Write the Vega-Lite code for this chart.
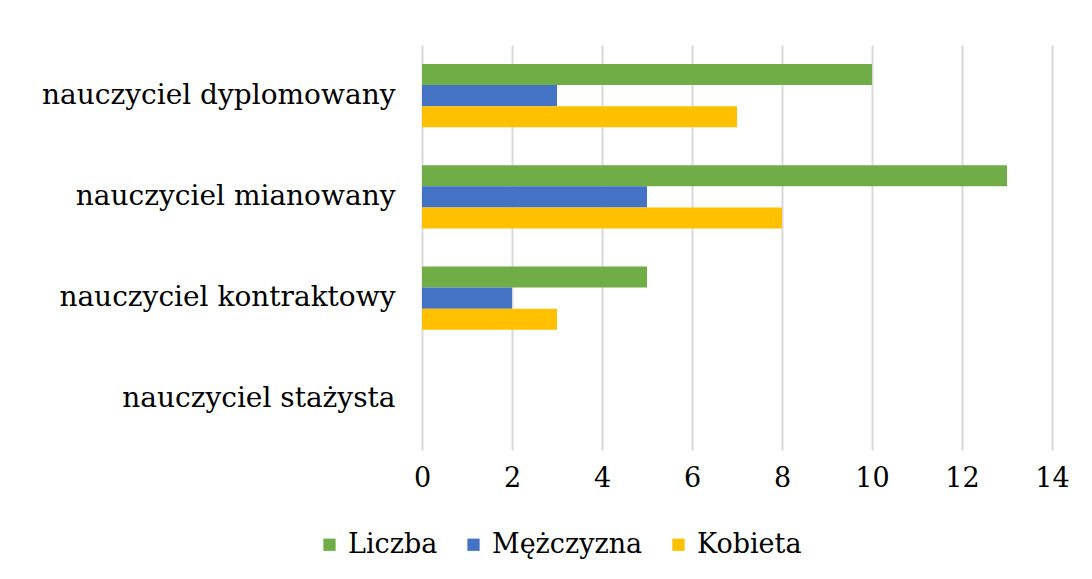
{
  "$schema": "https://vega.github.io/schema/vega-lite/v6.json",
  "width": 630,
  "height": 405,
  "autosize": {"type": "none"},
  "padding": {"left": 422, "top": 45, "right": 40, "bottom": 129},
  "background": "white",
  "data": {
    "values": [
      {"kategoria": "nauczyciel dyplomowany", "seria": "Liczba", "wartosc": 10},
      {"kategoria": "nauczyciel dyplomowany", "seria": "Mężczyzna", "wartosc": 3},
      {"kategoria": "nauczyciel dyplomowany", "seria": "Kobieta", "wartosc": 7},
      {"kategoria": "nauczyciel mianowany", "seria": "Liczba", "wartosc": 13},
      {"kategoria": "nauczyciel mianowany", "seria": "Mężczyzna", "wartosc": 5},
      {"kategoria": "nauczyciel mianowany", "seria": "Kobieta", "wartosc": 8},
      {"kategoria": "nauczyciel kontraktowy", "seria": "Liczba", "wartosc": 5},
      {"kategoria": "nauczyciel kontraktowy", "seria": "Mężczyzna", "wartosc": 2},
      {"kategoria": "nauczyciel kontraktowy", "seria": "Kobieta", "wartosc": 3},
      {"kategoria": "nauczyciel stażysta", "seria": "Liczba", "wartosc": 0},
      {"kategoria": "nauczyciel stażysta", "seria": "Mężczyzna", "wartosc": 0},
      {"kategoria": "nauczyciel stażysta", "seria": "Kobieta", "wartosc": 0}
    ]
  },
  "mark": {"type": "bar"},
  "encoding": {
    "y": {
      "field": "kategoria",
      "type": "nominal",
      "sort": ["nauczyciel dyplomowany", "nauczyciel mianowany", "nauczyciel kontraktowy", "nauczyciel stażysta"],
      "scale": {"paddingInner": 0.375, "paddingOuter": 0.1875},
      "axis": {
        "title": null,
        "domain": false,
        "ticks": false,
        "grid": false,
        "labelPadding": 27,
        "labelFont": "DejaVu Serif",
        "labelFontSize": 28,
        "labelColor": "#000000",
        "labelLimit": 500
      }
    },
    "yOffset": {
      "field": "seria",
      "type": "nominal",
      "sort": ["Liczba", "Mężczyzna", "Kobieta"]
    },
    "x": {
      "field": "wartosc",
      "type": "quantitative",
      "scale": {"domain": [0, 14], "nice": false},
      "axis": {
        "title": null,
        "values": [0, 2, 4, 6, 8, 10, 12, 14],
        "domain": false,
        "ticks": false,
        "grid": true,
        "gridColor": "#d9d9d9",
        "gridWidth": 2,
        "labelPadding": 15,
        "labelFont": "DejaVu Serif",
        "labelFontSize": 27,
        "labelColor": "#000000",
        "labelFlush": false
      }
    },
    "color": {
      "field": "seria",
      "type": "nominal",
      "sort": ["Liczba", "Mężczyzna", "Kobieta"],
      "scale": {"domain": ["Liczba", "Mężczyzna", "Kobieta"], "range": ["#70AD47", "#4472C4", "#FFC000"]},
      "legend": {
        "title": null,
        "orient": "none",
        "legendX": -106,
        "legendY": 486,
        "direction": "horizontal",
        "symbolType": "square",
        "symbolSize": 150,
        "symbolStrokeWidth": 0,
        "labelFont": "DejaVu Serif",
        "labelFontSize": 27,
        "labelColor": "#000000",
        "columnPadding": 22,
        "labelOffset": 5
      }
    }
  },
  "config": {
    "view": {"stroke": null}
  }
}
